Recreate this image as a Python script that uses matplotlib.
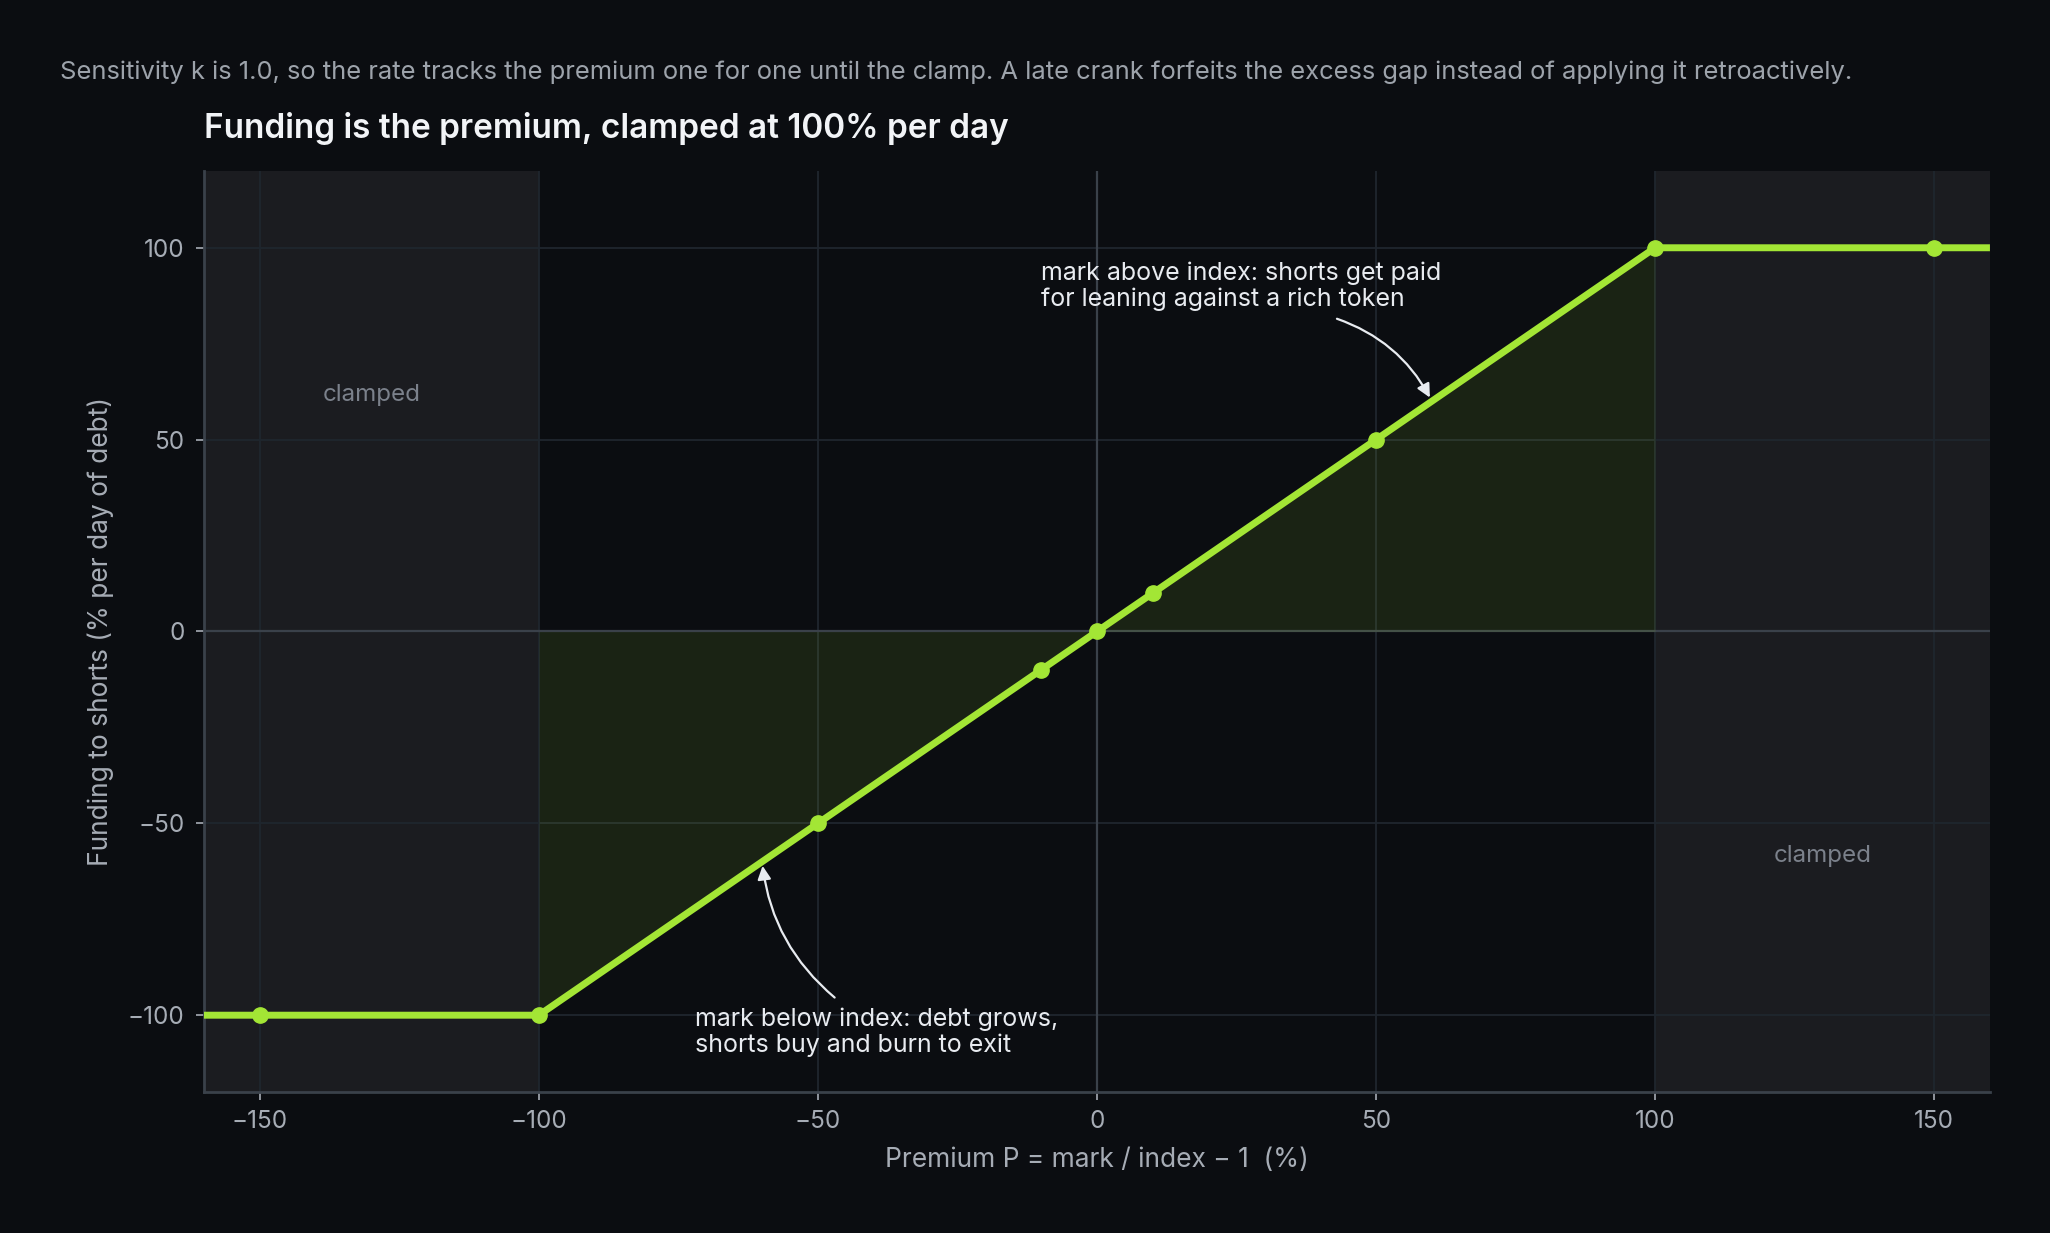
import matplotlib
matplotlib.use("Agg")
import matplotlib.pyplot as plt
import numpy as np

plt.rcParams['font.family'] = ['Inter', 'DejaVu Sans']

# ---- data ----
curve_premium = [-160, -100, 100, 160]
curve_funding = [-100, -100, 100, 100]
point_premium = [-150, -100, -50, -10, 0, 10, 50, 100, 150]
point_funding = [-100, -100, -50, -10, 0, 10, 50, 100, 100]
fill_premium = [-100, -50, -10, 0, 10, 50, 100]
fill_funding = [-100, -50, -10, 0, 10, 50, 100]
clamp_left = (-160, -100)
clamp_right = (100, 160)
xticks = [-150, -100, -50, 0, 50, 100, 150]
yticks = [-100, -50, 0, 50, 100]

BG = '#0b0d11'
LIME = '#a3e635'
GRID = '#1f262e'
AXIS = '#3a414a'
TICK = '#a6acb5'

fig = plt.figure(figsize=(20.5, 12.33), dpi=100, facecolor=BG)
ax = fig.add_axes([0.0995, 0.1144, 0.8712, 0.7469])
ax.set_facecolor(BG)

ax.set_xlim(-160, 160)
ax.set_ylim(-120, 120)

ax.axvspan(*clamp_left, color='#1b1c20', zorder=0.2, lw=0)
ax.axvspan(*clamp_right, color='#1b1c20', zorder=0.2, lw=0)

ax.set_axisbelow(True)
ax.grid(True, color=GRID, lw=1.3, zorder=0.5)

ax.axhline(0, color=AXIS, lw=1.6, zorder=0.8)
ax.axvline(0, color=AXIS, lw=1.6, zorder=0.8)

ax.fill_between(fill_premium, fill_funding, 0, color=LIME, alpha=0.1, lw=0, zorder=1)
ax.plot(curve_premium, curve_funding, color=LIME, lw=5, zorder=3, solid_capstyle='butt')
ax.plot(point_premium, point_funding, 'o', color=LIME, ms=11, zorder=4)

for s in ['top', 'right']:
    ax.spines[s].set_visible(False)
for s in ['left', 'bottom']:
    ax.spines[s].set_color(AXIS)
    ax.spines[s].set_linewidth(2)

ax.set_xticks(xticks)
ax.set_yticks(yticks)
ax.tick_params(colors=TICK, labelsize=17.5, length=6, width=1.2, pad=8)
ax.tick_params(axis='x', pad=7)
for t in ax.get_xticklabels() + ax.get_yticklabels():
    t.set_color(TICK)

ax.set_xlabel('Premium P = mark / index \u2212 1  (%)', color=TICK, fontsize=19, labelpad=10)
ax.set_ylabel('Funding to shorts (% per day of debt)', color=TICK, fontsize=19, labelpad=10)

ax.set_title('Funding is the premium, clamped at 100% per day', loc='left',
             color='#f2f4f7', fontsize=24, fontweight='semibold', pad=24)
fig.text(60 / 2050, 1 - 79 / 1233,
         'Sensitivity k is 1.0, so the rate tracks the premium one for one until the clamp. '
         'A late crank forfeits the excess gap instead of applying it retroactively.',
         color='#9da3ab', fontsize=18.4, va='baseline', ha='left')

ax.text(-130, 61.5, 'clamped', color='#7b818b', fontsize=17.4, ha='center', va='center')
ax.text(130, -58.5, 'clamped', color='#7b818b', fontsize=17.4, ha='center', va='center')

ANN = '#e8ebf0'
ax.text(-10, 90, 'mark above index: shorts get paid\nfor leaning against a rich token',
        color=ANN, fontsize=18, ha='left', va='center', linespacing=1.15)
ax.annotate('', xy=(60, 60), xytext=(43, 81.5),
            arrowprops=dict(arrowstyle='-|>', color=ANN, lw=1.6, mutation_scale=20,
                            connectionstyle='arc3,rad=-0.2', shrinkA=0, shrinkB=3))
ax.text(-72, -104.5, 'mark below index: debt grows,\nshorts buy and burn to exit',
        color=ANN, fontsize=18, ha='left', va='center', linespacing=1.15)
ax.annotate('', xy=(-60, -60), xytext=(-47, -95.4),
            arrowprops=dict(arrowstyle='-|>', color=ANN, lw=1.6, mutation_scale=20,
                            connectionstyle='arc3,rad=-0.2', shrinkA=0, shrinkB=3))

fig.savefig('out.png', dpi=100, facecolor=BG)
